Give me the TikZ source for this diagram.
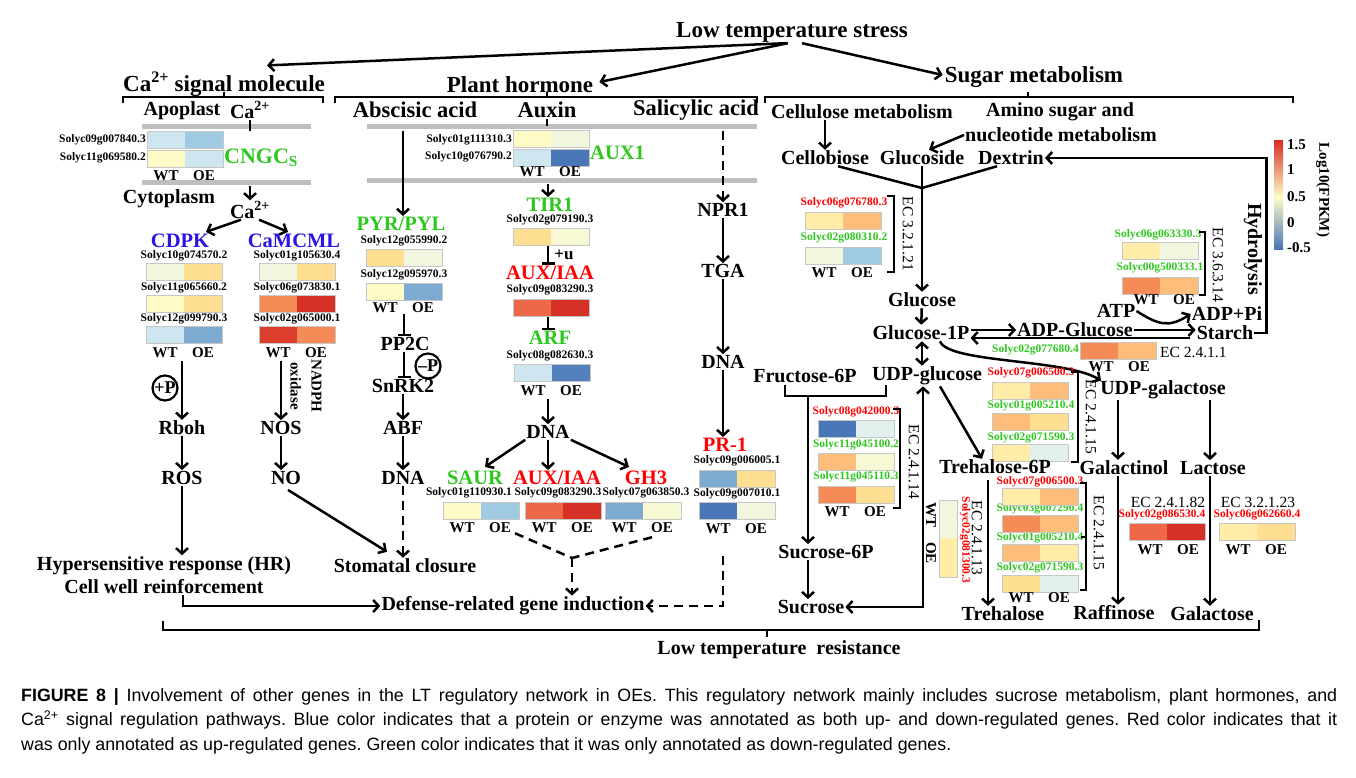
\documentclass[tikz,border=0pt]{standalone}
\usepackage{fontspec}
\setmainfont{Liberation Serif}
\setsansfont{Liberation Sans}
\usepackage{xcolor}
\usepackage{tikz}
\usetikzlibrary{calc, arrows, arrows.meta, positioning}

\definecolor{mygreen}{RGB}{45,200,30}
\definecolor{myred}{RGB}{255,0,0}
\definecolor{myblue}{RGB}{40,20,230}
\definecolor{hRed}{RGB}{215,48,39}
\definecolor{hRedO}{RGB}{236,104,70}
\definecolor{hOrg}{RGB}{245,140,88}
\definecolor{hOrgL}{RGB}{252,190,122}
\definecolor{hYel}{RGB}{254,222,145}
\definecolor{hYelL}{RGB}{255,236,168}
\definecolor{hCream}{RGB}{255,251,198}
\definecolor{hCream2}{RGB}{246,249,212}
\definecolor{hGrnL}{RGB}{240,247,222}
\definecolor{hCyan}{RGB}{226,241,238}
\definecolor{hBlueL}{RGB}{206,230,240}
\definecolor{hBlueM}{RGB}{160,202,225}
\definecolor{hBlue}{RGB}{125,170,208}
\definecolor{hBlueD}{RGB}{72,118,182}

\newcommand{\fs}[1]{\fontsize{#1}{#1}\selectfont}
\newcommand{\heat}[4]{%
  \fill[#3] (#1,#2) rectangle (#1+38,#2+17);
  \fill[#4] (#1+38,#2) rectangle (#1+76,#2+17);
  \draw[line width=0.8pt, draw=black!22] (#1,#2) rectangle (#1+76,#2+17);}
\newcommand{\wtoe}[3]{%
  \node[wo] (#3wt) at (#1+19,#2) {WT};
  \node[wo] (#3oe) at (#1+57,#2) {OE};}

\begin{document}
\begin{tikzpicture}[x=1pt, y=-1pt, >={Straight Barb[length=5.5pt, width=12pt]}]
\tikzstyle{head}=[font=\bfseries\fs{23}, inner sep=1pt]
\tikzstyle{sub}=[font=\bfseries\fs{22.5}, inner sep=1pt]
\tikzstyle{txt}=[font=\bfseries\fs{20}, inner sep=1pt]
\tikzstyle{big}=[font=\bfseries\fs{20.5}, inner sep=1pt]
\tikzstyle{gene}=[font=\bfseries\fs{11.5}, inner sep=0pt]
\tikzstyle{wo}=[font=\bfseries\fs{15}, inner sep=0pt]
\tikzstyle{ec}=[font=\fs{15.5}, inner sep=0pt]
\tikzstyle{arr}=[->, line width=2.5pt]
\tikzstyle{darr}=[->, line width=2.5pt, dash pattern=on 9pt off 6pt]
\tikzstyle{dline}=[line width=2.5pt, dash pattern=on 9pt off 6pt]
\tikzstyle{inh}=[-|, line width=2.5pt]
\tikzstyle{memb}=[line width=5pt, draw=black!25]
\tikzstyle{brk}=[line width=2.5pt]
\tikzstyle{phos}=[circle, draw, line width=2.2pt, inner sep=0pt, minimum size=25pt, font=\bfseries\fs{18}]
\useasboundingbox (0,0) rectangle (1356,778);
\fill[white] (0,0) rectangle (1356,778);

% top level
\node[head] (lts) at (792,32) {Low temperature stress};
\node[head] (camol) at (224,84) {Ca\textsuperscript{2+} signal molecule};
\node[head] (phorm) at (520,85) {Plant hormone};
\node[head] (sugmet) at (1034,77) {Sugar metabolism};
\draw[arr] ($(lts.south)+(-6,0)$) -- ($(camol.north)+(43,-5)$);
\draw[arr] ($(lts.south)+(-4,0)$) -- ($(phorm.east)+(5,-3)$);
\draw[arr] ($(lts.south)+(10,0)$) -- ($(sugmet.west)+(-1,-2)$);
\draw[brk] (123,103) -- (123,97) -- (323,97) -- (323,103);
\draw[brk] (224,97) -- (224,92);
\draw[brk] (335,103) -- (335,97) -- (757,97) -- (757,103);
\draw[brk] (547,97) -- (547,92);
\draw[brk] (765,103) -- (765,97) -- (1293,97) -- (1293,103);
\draw[brk] (1028,97) -- (1028,92);

% Ca2+ signal
\node[txt] (apo) at (182,111) {Apoplast};
\node[txt] (caout) at (250,110) {Ca\textsuperscript{2+}};
\draw[memb] (142,127) -- (311,127);
\draw[memb] (142,183) -- (311,183);
\draw[line width=2.5pt] (caout.south) -- (250,131);
\heat{147}{131}{hBlueL}{hBlueM}
\heat{147}{150}{hCream}{hBlueL}
\node[gene, anchor=east] (cn1) at (146,140) {Solyc09g007840.3};
\node[gene, anchor=east] (cn2) at (146,158) {Solyc11g069580.2};
\node[big, text=mygreen, anchor=west, font=\bfseries\fs{22}] (cngc) at (223,158) {CNGC\textsubscript{S}};
\wtoe{147}{176}{cn}
\node[txt] (cyto) at (169,199) {Cytoplasm};
\node[txt] (cain) at (250,210) {Ca\textsuperscript{2+}};
\coordinate (m1) at (250,186);
\draw[arr] (m1) -- (cain.north);
\node[big, text=myblue] (cdpk) at (180,241) {CDPK};
\node[big, text=myblue] (camcml) at (294,241) {CaMCML};
\draw[arr] ($(cain.south)+(-9,0)$) -- ($(cdpk.north)+(26,-1)$);
\draw[arr] ($(cain.south)+(9,0)$) -- ($(camcml.north)+(-6,-1)$);
\node[gene] (cd1) at (184,256) {Solyc10g074570.2};
\node[gene] (cd2) at (184,288) {Solyc11g065660.2};
\node[gene] (cd3) at (184,319) {Solyc12g099790.3};
\heat{146}{263}{hGrnL}{hYel}
\heat{146}{295}{hCream}{hYel}
\heat{146}{326}{hBlueL}{hBlue}
\wtoe{146}{353}{cd}
\node[gene] (cm1) at (297,256) {Solyc01g105630.4};
\node[gene] (cm2) at (297,288) {Solyc06g073830.1};
\node[gene] (cm3) at (297,319) {Solyc02g065000.1};
\heat{259}{263}{hGrnL}{hYel}
\heat{259}{295}{hOrg}{hRed}
\heat{259}{326}{hRed!85!hOrg}{hOrg}
\wtoe{259}{353}{cm}
\node[txt] (rboh) at (182,428) {Rboh};
\coordinate (c1) at (182,361);
\draw[arr] (c1) -- (rboh.north);
\node[phos] (pp) at (165,388) {+P};
\node[txt] (ros) at (182,478) {ROS};
\draw[arr] (rboh) -- (ros);
\node[txt, align=center, font=\bfseries\fontsize{20}{23}\selectfont] (hr) at (164,575) {Hypersensitive response (HR)\\Cell well reinforcement};
\draw[arr] (ros.south) -- (ros.south |- hr.north);
\node[txt] (nos) at (281,428) {NOS};
\coordinate (c2) at (281,361);
\draw[arr] (c2) -- (nos.north);
\node[font=\bfseries\fontsize{15}{21}\selectfont, rotate=-90, align=center, inner sep=0pt] (nadph) at (306,386) {NADPH\\oxidase};
\node[txt] (no) at (286,478) {NO};
\draw[arr] (nos.south) -- (nos.south |- no.north);
\node[txt] (stom) at (405,566) {Stomatal closure};
\draw[arr] ($(no.south)+(2,4)$) -- ($(stom.north)+(-18,-6)$);

% abscisic acid
\node[sub] (aba) at (415,110) {Abscisic acid};
\draw[memb] (367,127) -- (757,127);
\draw[memb] (367,181) -- (757,181);
\node[big, text=mygreen] (pyr) at (401,224) {PYR/PYL};
\coordinate (c3) at (403,131);
\draw[arr] (c3) -- (c3 |- pyr.north);
\node[gene] (py1) at (404,241) {Solyc12g055990.2};
\node[gene] (py2) at (404,275) {Solyc12g095970.3};
\heat{366}{249}{hYel}{hGrnL}
\heat{366}{283}{hCream}{hBlue}
\wtoe{366}{308}{py}
\node[txt] (pp2c) at (405,344) {PP2C};
\coordinate (c4) at (404,314);
\draw[inh] (c4) -- (c4 |- pp2c.north);
\node[txt] (snrk) at (403,386) {SnRK2};
\draw[inh] (pp2c.south -| c4) -- (c4 |- snrk.north);
\node[phos] (mp) at (428,366) {--P};
\node[txt] (abf) at (403,428) {ABF};
\draw[arr] (snrk) -- (abf);
\node[txt] (dnaa) at (403,478) {DNA};
\draw[arr] (abf) -- (dnaa);
\draw[darr] (dnaa.south) -- (dnaa.south |- stom.north);

% auxin
\node[sub] (aux) at (547,110) {Auxin};
\draw[line width=2.5pt] (aux.south) -- (547,126);
\heat{513}{130}{hCream}{hGrnL}
\heat{513}{149}{hBlueL}{hBlueD}
\node[gene, anchor=east] (ax1) at (512,140) {Solyc01g111310.3};
\node[gene, anchor=east] (ax2) at (512,157) {Solyc10g076790.2};
\node[big, text=mygreen, anchor=west] (aux1) at (589,153) {AUX1};
\wtoe{513}{172}{ax}
\node[big, text=mygreen] (tir1) at (550,205) {TIR1};
\coordinate (c5) at (548,184);
\draw[arr] (c5) -- (c5 |- tir1.north);
\node[gene] (tr) at (550,220) {Solyc02g079190.3};
\heat{513}{228}{hYel}{hCream2}
\node[big, text=myred] (auxiaa) at (550,273) {AUX/IAA};
\coordinate (c6) at (548,246);
\draw[inh] (c6) -- (c6 |- auxiaa.north);
\node[font=\bfseries\fs{17}, inner sep=0pt] (ub) at (564,255) {+u};
\node[gene] (ai) at (550,290) {Solyc09g083290.3};
\heat{513}{299}{hRedO}{hRed}
\node[big, text=mygreen] (arf) at (550,338) {ARF};
\coordinate (c7) at (548,317);
\draw[inh] (c7) -- (c7 |- arf.north);
\node[gene] (ar) at (550,356) {Solyc08g082630.3};
\heat{514}{364}{hBlueL}{hBlueD!80!hBlue}
\wtoe{514}{391}{ar}
\node[txt] (dnab) at (548,432) {DNA};
\coordinate (c8) at (548,399);
\draw[arr] (c8) -- (dnab.north);
\node[big, text=mygreen] (saur) at (475,478) {SAUR};
\node[big, text=myred] (auxiaa2) at (557,478) {AUX/IAA};
\node[big, text=myred] (gh3) at (646,478) {GH3};
\draw[arr] (dnab.south west) -- ($(saur.north)+(10,-3)$);
\draw[arr] (dnab.south) -- (dnab.south |- auxiaa2.north);
\draw[arr] (dnab.south east) -- ($(gh3.north)+(-17,-3)$);
\node[gene] (sa) at (469,493) {Solyc01g110930.1};
\node[gene] (ai2) at (558,493) {Solyc09g083290.3};
\node[gene] (gh) at (646,493) {Solyc07g063850.3};
\heat{443}{502}{hCream}{hBlueM}
\heat{525}{502}{hRedO}{hRed}
\heat{605}{502}{hBlue}{hCream2}
\wtoe{443}{528}{sa}
\wtoe{525}{528}{ai}
\wtoe{605}{528}{gh}
\node[txt] (defense) at (513,606) {Defense-related gene induction};
\coordinate (jn) at (572,558);
\draw[dline] ($(saoe.south east)+(4,0)$) -- (jn);
\draw[dline] ($(ghoe.south)+(-10,4)$) -- (jn);
\draw[darr] (jn) -- (jn |- defense.north);
\draw[arr] ($(hr.south)+(19,0)$) |- (defense.west);

% salicylic acid
\node[sub] (sal) at (696,110) {Salicylic acid};
\node[txt] (npr1) at (723,210) {NPR1};
\coordinate (c9) at (723,131);
\draw[darr] (c9) -- (npr1.north);
\node[txt] (tga) at (723,271) {TGA};
\draw[arr] (npr1) -- (tga);
\node[txt] (dnac) at (723,362) {DNA};
\draw[arr] (tga) -- (dnac);
\node[big, text=myred] (pr1) at (725,445) {PR-1};
\draw[arr] (dnac.south) -- (dnac.south |- pr1.north);
\node[gene] (p1) at (737,461) {Solyc09g006005.1};
\node[gene] (p2) at (737,494) {Solyc09g007010.1};
\heat{699}{470}{hBlue}{hYel}
\heat{699}{502}{hBlueD}{hGrnL}
\wtoe{699}{529}{p}
\coordinate (c10) at (723,556);
\draw[darr] (c10) |- (defense.east);

% sugar metabolism
\node[txt] (cellmet) at (862,112) {Cellulose metabolism};
\node[txt] (amino1) at (1060,112) {Amino sugar and};
\node[txt] (amino2) at (1061,135) {nucleotide metabolism};
\node[txt] (cello) at (825,158) {Cellobiose};
\node[txt] (glcs) at (922,158) {Glucoside};
\node[txt] (dext) at (1011,158) {Dextrin};
\draw[arr] (cello.north |- cellmet.south) -- (cello.north);
\draw[arr] (amino2.west) -- ($(glcs.north)+(7,0)$);
\coordinate (mg) at (922,188);
\draw[brk] ($(cello.south)+(13,0)$) -- (mg) -- ($(dext.south)+(-14,0)$);
\node[txt] (glucose) at (922,300) {Glucose};
\draw[arr] (glcs.south) -- (glucose.north);
\node[gene, text=myred] (e1) at (844,203) {Solyc06g076780.3};
\node[gene, text=mygreen] (e2) at (844,238) {Solyc02g080310.2};
\heat{805}{212}{hYelL}{hOrgL}
\heat{805}{247}{hGrnL}{hBlueM}
\wtoe{805}{273}{e}
\draw[brk] (887,196) -- (894,196) -- (894,272) -- (887,272);
\node[ec, rotate=-90] (ec1) at (908,234) {EC 3.2.1.21};
\node[txt] (g1p) at (921,333) {Glucose-1P};
\draw[arr] (glucose) -- (g1p);
\node[txt] (udpg) at (927,376) {UDP-glucose};
\draw[<->, line width=2.5pt] (g1p.south -| glucose.south) -- (glucose.south |- udpg.north);
\node[txt] (fru) at (805,376) {Fructose-6P};
\draw[brk] (785,385) -- (785,396) -- (886,396) -- (886,385);
\node[txt] (suc6p) at (826,552) {Sucrose-6P};
\coordinate (c11) at (808,396);
\draw[arr] (c11) -- (c11 |- suc6p.north);
\node[txt] (suc) at (811,607) {Sucrose};
\draw[arr] (c11 |- suc6p.south) -- (c11 |- suc.north);
\draw[<->, line width=2.5pt] (suc.east) -| ($(udpg.south)+(-4,0)$);
\node[gene, text=myred] (e8) at (856,412) {Solyc08g042000.3};
\node[gene, text=mygreen] (e9) at (856,445) {Solyc11g045100.2};
\node[gene, text=mygreen] (e10) at (856,477) {Solyc11g045110.3};
\heat{818}{420}{hBlueD}{hCyan}
\heat{818}{453}{hOrgL}{hCream2}
\heat{818}{486}{hOrg}{hYel}
\wtoe{818}{512}{e8}
\draw[brk] (893,409) -- (900,409) -- (900,508) -- (893,508);
\node[ec, rotate=-90] (ec14) at (914,462) {EC 2.4.1.14};

% starch
\node[txt] (adpg) at (1075,330) {ADP-Glucose};
\node[txt] (starch) at (1225,333) {Starch};
\node[txt] (atp) at (1116,311) {ATP};
\node[txt] (adppi) at (1227,314) {ADP+Pi};
\draw[arr] ($(g1p.east)+(0,-3)$) -- (adpg.west);
\draw[arr] (adpg.east) -- ($(starch.west)+(0,-3)$);
\draw[<-, line width=2.5pt] ($(g1p.east)+(0,5)$) -- ($(starch.west)+(-6,5)$);
\draw[arr] (atp.east) .. controls +(22,14) and +(-22,14) .. (adppi.west);
\node[gene, text=mygreen, anchor=east] (e3) at (1079,350) {Solyc02g077680.4};
\heat{1080}{342}{hOrg}{hOrgL}
\node[ec, anchor=west] (ec11) at (1160,352) {EC 2.4.1.1};
\wtoe{1082}{367}{e3}
\node[gene, text=mygreen] (e4) at (1158,235) {Solyc06g063330.3};
\node[gene, text=mygreen] (e5) at (1160,268) {Solyc00g500333.1};
\heat{1122}{242}{hYelL}{hGrnL}
\heat{1122}{277}{hOrg}{hOrgL}
\wtoe{1127}{300}{e4}
\draw[brk] (1199,232) -- (1205,232) -- (1205,295) -- (1199,295);
\node[ec, rotate=-90] (ec36) at (1218,265) {EC 3.6.3.14};
\node[txt, rotate=-90] (hydro) at (1253,249) {Hydrolysis};
\draw[arr] (starch.east) -- ++(12,0) |- (dext.east);

% galactose
\node[txt] (udpgal) at (1163,390) {UDP-galactose};
\draw[arr] ($(g1p.south)+(19,0)$) .. controls +(8,22) and +(-35,-22) .. ($(udpgal.north west)+(2,1)$);
\node[txt] (galactinol) at (1124,468) {Galactinol};
\node[txt] (lactose) at (1213,468) {Lactose};
\coordinate (c12) at ($(udpgal.south)+(-45,0)$);
\coordinate (c13) at ($(udpgal.south)+(47,0)$);
\draw[arr] (c12) -- (c12 |- galactinol.north);
\draw[arr] (c13) -- (c13 |- lactose.north);
\node[txt] (raff) at (1114,613) {Raffinose};
\node[txt] (galact) at (1212,614) {Galactose};
\draw[arr] (c12 |- galactinol.south) -- (c12 |- raff.north);
\draw[arr] (c13 |- lactose.south) -- (c13 |- galact.north);
\node[ec] (ec82) at (1168,502) {EC 2.4.1.82};
\node[gene, text=myred] (e6) at (1162,515) {Solyc02g086530.4};
\heat{1129}{523}{hRedO}{hRed}
\wtoe{1131}{550}{e6}
\node[ec] (ec23) at (1258,502) {EC 3.2.1.23};
\node[gene, text=myred] (e7) at (1257,515) {Solyc06g062660.4};
\heat{1219}{523}{hYelL}{hYel}
\wtoe{1219}{550}{e7}

% trehalose
\node[gene, text=myred] (t1) at (1031,373) {Solyc07g006500.3};
\node[gene, text=mygreen] (t2) at (1031,406) {Solyc01g005210.4};
\node[gene, text=mygreen] (t3) at (1031,438) {Solyc02g071590.3};
\heat{992}{382}{hYelL}{hOrgL}
\heat{992}{413}{hOrgL}{hYel}
\heat{992}{444}{hYelL}{hCyan}
\draw[brk] (1071,372) -- (1078,372) -- (1078,462) -- (1071,462);
\node[ec, rotate=-90] (ec15a) at (1091,417) {EC 2.4.1.15};
\node[txt] (tre6p) at (995,467) {Trehalose-6P};
\draw[arr] ($(udpg.south)+(13,0)$) -- ($(tre6p.north)+(-13,0)$);
\node[txt] (tre) at (1003,614) {Trehalose};
\coordinate (c14) at (988,480);
\draw[arr] (c14) -- (c14 |- tre.north);
\node[gene, text=myred] (t4) at (1040,482) {Solyc07g006500.3};
\node[gene, text=mygreen] (t5) at (1040,509) {Solyc03g007290.4};
\node[gene, text=mygreen] (t6) at (1040,538) {Solyc01g005210.4};
\node[gene, text=mygreen] (t7) at (1040,568) {Solyc02g071590.3};
\heat{1002}{488}{hYelL}{hOrgL}
\heat{1002}{515}{hOrg}{hOrgL}
\heat{1002}{544}{hOrgL}{hYelL}
\heat{1002}{575}{hYel}{hCyan}
\wtoe{1002}{598}{t4}
\draw[brk] (1080,483) -- (1086,483) -- (1086,590) -- (1080,590);
\draw[brk] (1086,537) -- (1081,537);
\node[ec, rotate=-90] (ec15b) at (1099,533) {EC 2.4.1.15};
\fill[hGrnL] (939,500) rectangle (957,538);
\fill[hYelL] (939,538) rectangle (957,577);
\draw[line width=0.8pt, draw=black!22] (939,500) rectangle (957,577);
\node[wo, rotate=-90] (vwt) at (931,515) {WT};
\node[wo, rotate=-90] (voe) at (931,553) {OE};
\node[gene, text=myred, rotate=-90] (t8) at (965,540) {Solyc02g081300.3};
\node[ec, rotate=-90] (ec13) at (977,538) {EC 2.4.1.13};

% colour scale
\shade[top color=hRed, middle color=hOrg, bottom color=hCream] (1274,141) rectangle (1283,197);
\shade[top color=hCream, middle color=hBlueL, bottom color=hBlueD] (1274,197) rectangle (1283,249);
\node[wo, anchor=west] (s1) at (1287,145) {1.5};
\node[wo, anchor=west] (s2) at (1287,170) {1};
\node[wo, anchor=west] (s3) at (1287,197) {0.5};
\node[wo, anchor=west] (s4) at (1287,223) {0};
\node[wo, anchor=west] (s5) at (1287,248) {-0.5};
\node[wo, rotate=-90] (logf) at (1323,190) {Log10(FPKM)};

% resistance
\draw[brk] (163,621) -- (163,630) -- (1259,630) -- (1259,620);
\draw[brk] (767,630) -- (767,637);
\node[txt] (ltr) at (779,650) {Low temperature\ \ resistance};

\node[anchor=north west, inner sep=0pt, text width=1316pt, align=justify, font=\sffamily\fontsize{17.8}{24.5}\selectfont\frenchspacing] (cap) at (21,688) {\textbf{FIGURE 8 \textbar} Involvement of other genes in the LT regulatory network in OEs. This regulatory network mainly includes sucrose metabolism, plant hormones, and\linebreak Ca\textsuperscript{2+} signal regulation pathways. Blue color indicates that a protein or enzyme was annotated as both up- and down-regulated genes. Red color indicates that it\linebreak was only annotated as up-regulated genes. Green color indicates that it was only annotated as down-regulated genes.};
\end{tikzpicture}
\end{document}
